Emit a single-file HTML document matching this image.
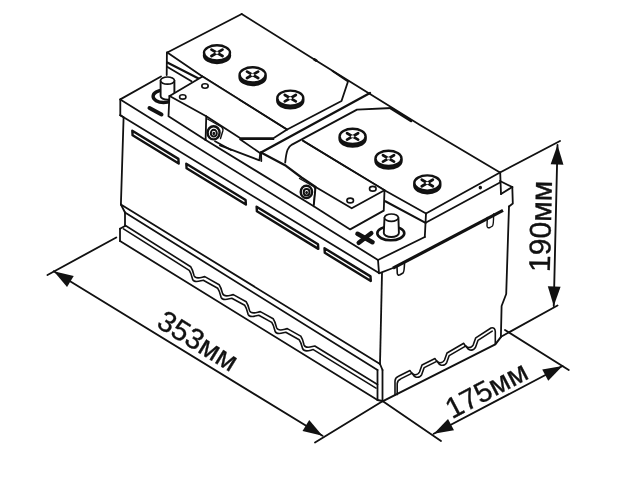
<!DOCTYPE html>
<html><head><meta charset="utf-8"><title>Battery dimensions</title>
<style>
html,body{margin:0;padding:0;background:#fff;}
body{width:640px;height:480px;overflow:hidden;}
svg{display:block;will-change:transform;}
text{font-family:"Liberation Sans",sans-serif;fill:#111;stroke:#111;stroke-width:0.35;}
</style></head><body>
<svg width="640" height="480" viewBox="0 0 640 480" fill="none" stroke="#111" stroke-linecap="round" stroke-linejoin="round">
<rect x="0" y="0" width="640" height="480" fill="#fff" stroke="none"/>
<path d="M120.30,99.40 L378.00,260.00" stroke-width="1.8" />
<path d="M120.30,99.40 L120.30,115.30" stroke-width="1.8" />
<path d="M120.30,115.30 L379.00,273.00" stroke-width="1.8" />
<path d="M378.00,260.00 L379.00,273.00" stroke-width="1.8" />
<path d="M120.30,99.40 L161.00,76.50" stroke-width="1.8" />
<path d="M378.00,260.00 L424.80,237.00" stroke-width="1.8" />
<path d="M500.00,181.00 L512.30,187.00" stroke-width="1.8" />
<path d="M512.30,187.00 L512.80,203.50 L509.00,206.50" stroke-width="1.8" />
<path d="M501.00,194.00 L512.30,187.00" stroke-width="1.8" />
<path d="M379.00,273.30 L393.00,268.00" stroke-width="1.8" />
<path d="M393.00,268.20 L503.00,210.30" stroke-width="3.2" stroke-linecap="butt"/>
<path d="M397,267 L397.3,273.5 Q397.6,275.8 400,274.8 L403,273 Q404.3,272 404.5,263" stroke-width="1.6" />
<path d="M487.3,217.5 L487,226 Q487.3,228.5 490,227.5 L492.5,226 Q493.6,225 493.6,214" stroke-width="1.4" />
<path d="M205.60,140.00 L313.75,206.25" stroke-width="1.8" />
<path d="M120.30,115.30 L123.60,117.30 L120.90,204.50" stroke-width="1.8" />
<path d="M120.90,204.50 L380.00,364.00" stroke-width="1.8" />
<path d="M120.90,204.50 L125.00,212.50" stroke-width="1.8" />
<path d="M125.00,212.50 L377.50,370.00" stroke-width="1.8" />
<path d="M125.00,212.50 L125.00,226.00" stroke-width="1.8" />
<path d="M120.00,228.75 L125.00,226.00" stroke-width="1.8" />
<path d="M120.00,228.75 L120.00,241.00" stroke-width="1.8" />
<path d="M120.00,241.00 L377.50,400.00" stroke-width="1.8" />
<path d="M382.00,273.00 L380.00,364.00" stroke-width="1.8" />
<path d="M380.00,364.00 L382.50,370.00" stroke-width="1.8" />
<path d="M382.50,370.00 L382.50,401.00" stroke-width="1.8" />
<path d="M377.50,370.00 L377.50,400.00" stroke-width="1.8" />
<path d="M377.50,400.00 L382.50,401.00" stroke-width="1.8" />
<path d="M509.00,206.50 L506.20,294.00 L501.60,306.00 L500.90,336.50" stroke-width="1.8" />
<path d="M382.50,401.30 L495.30,344.30 L501.00,336.80" stroke-width="2.0" />
<path d="M125.00,225.30 L190.70,266.72 C192.50,269.22 193.30,272.72 194.10,275.72 C194.90,277.42 196.20,277.92 198.10,277.92 C200.70,277.92 202.20,277.12 204.80,276.62 L219.20,284.69 C221.00,287.19 221.80,290.69 222.60,293.69 C223.40,295.39 224.70,295.89 226.60,295.89 C229.20,295.89 230.70,295.09 233.30,294.59 L246.20,301.72 C248.00,304.22 248.80,307.72 249.60,310.72 C250.40,312.42 251.70,312.92 253.60,312.92 C256.20,312.92 257.70,312.12 260.30,311.62 L273.20,318.74 C275.00,321.24 275.80,324.74 276.60,327.74 C277.40,329.44 278.70,329.94 280.60,329.94 C283.20,329.94 284.70,329.14 287.30,328.64 L300.70,336.08 C302.50,338.58 303.30,342.08 304.10,345.08 C304.90,346.78 306.20,347.28 308.10,347.28 C310.70,347.28 312.20,346.48 314.80,345.98 L377.50,384.50" stroke-width="1.6" />
<path d="M123.50,228.90 L189.20,270.32 C191.00,272.82 191.80,276.32 192.60,279.32 C193.40,281.02 194.70,281.52 196.60,281.52 C199.20,281.52 200.70,280.72 203.30,280.22 L217.70,288.29 C219.50,290.79 220.30,294.29 221.10,297.29 C221.90,298.99 223.20,299.49 225.10,299.49 C227.70,299.49 229.20,298.69 231.80,298.19 L244.70,305.32 C246.50,307.82 247.30,311.32 248.10,314.32 C248.90,316.02 250.20,316.52 252.10,316.52 C254.70,316.52 256.20,315.72 258.80,315.22 L271.70,322.34 C273.50,324.84 274.30,328.34 275.10,331.34 C275.90,333.04 277.20,333.54 279.10,333.54 C281.70,333.54 283.20,332.74 285.80,332.24 L299.20,339.68 C301.00,342.18 301.80,345.68 302.60,348.68 C303.40,350.38 304.70,350.88 306.60,350.88 C309.20,350.88 310.70,350.08 313.30,349.58 L376.00,388.10" stroke-width="1.6" />
<path d="M395.00,395.00 L395.00,381.00 Q395.30,377.60 398.50,376.30 L410.00,370.50 C411.00,372.50 412.00,374.30 414.00,374.60 C416.00,374.90 418.50,374.00 419.50,372.00 L422.00,365.00 L435.00,358.50 C436.00,360.50 437.00,362.30 439.00,362.60 C441.00,362.90 443.50,362.00 444.50,360.00 L447.00,353.00 L463.75,343.30 C464.75,345.30 465.75,347.10 467.75,347.40 C469.75,347.70 472.25,346.80 473.25,344.80 L475.75,337.80 L491.00,328.00 Q495.00,327.00 495.30,331.50 L495.30,344.30" stroke-width="1.6" />
<path d="M397.20,394.60 L397.20,383.60 Q397.50,380.20 400.70,378.90 L412.20,373.10 C413.20,375.10 414.20,376.90 416.20,377.20 C418.20,377.50 420.70,376.60 421.70,374.60 L424.20,367.60 L437.20,361.10 C438.20,363.10 439.20,364.90 441.20,365.20 C443.20,365.50 445.70,364.60 446.70,362.60 L449.20,355.60 L465.95,345.90 C466.95,347.90 467.95,349.70 469.95,350.00 C471.95,350.30 474.45,349.40 475.45,347.40 L477.95,340.40 L492.20,331.10" stroke-width="1.6" />
<path d="M167.30,52.50 L241.70,14.00" stroke-width="1.8" />
<path d="M241.70,14.00 L320.00,63.00 L420.00,125.00 L500.00,172.50" stroke-width="1.8" />
<path d="M391.00,108.50 L411.00,121.00" stroke-width="2.6" />
<path d="M314.30,59.40 L316.30,60.60" stroke-width="2.8" />
<path d="M167.30,52.50 L202.50,76.50 L287.00,129.50" stroke-width="1.8" />
<path d="M166.90,52.50 L166.70,75.00" stroke-width="1.8" />
<path d="M167.30,62.50 L200.00,79.30" stroke-width="2.2" />
<path d="M167.50,67.00 L191.50,81.30" stroke-width="1.8" />
<path d="M332.50,71.00 L348.00,81.50 L341.50,101.00 L286.70,129.80 L273.40,138.20 L240.00,138.00 L206.25,116.25" stroke-width="1.8" />
<path d="M240.50,139.30 L273.80,139.50" stroke-width="1.2" />
<path d="M370.00,93.00 L261.00,152.50" stroke-width="2.4" />
<path d="M261.00,152.50 L261.30,161.00" stroke-width="1.8" />
<path d="M392,108 L357,109.6 L292,144.6 C288,147 286.5,150 285.2,162.6" stroke-width="1.8" />
<path d="M303.00,140.80 L384.50,190.30 L426.00,213.50" stroke-width="1.8" />
<path d="M426.00,213.50 L500.00,172.50" stroke-width="1.8" />
<path d="M426.00,213.50 L424.80,237.00" stroke-width="1.8" />
<path d="M425.60,222.80 L500.00,182.50" stroke-width="1.8" />
<path d="M500.20,172.50 L501.00,194.00" stroke-width="1.8" />
<path d="M425.60,222.80 L385.30,201.25" stroke-width="2" />
<path d="M261.00,152.50 L286.00,165.80 L301.50,177.50 L315.60,186.90" stroke-width="2.2" />
<ellipse cx="480.3" cy="187.6" rx="1.1" ry="1.3" stroke-width="1.2" fill="#111" transform="rotate(0 480.3 187.6)"/>
<ellipse cx="163.5" cy="96.3" rx="10.4" ry="6.2" stroke-width="3.4" fill="none" transform="rotate(0 163.5 96.3)"/>
<path d="M160.6,80.6 L160.6,96 A6.9,3.6 0 0 0 174.4,96 L174.4,80.6 Z" stroke-width="1.9" fill="#fff"/>
<ellipse cx="167.5" cy="80.6" rx="6.9" ry="3.6" stroke-width="1.7" fill="#fff" transform="rotate(0 167.5 80.6)"/>
<path d="M149.50,108.00 L161.50,114.50" stroke-width="4" />
<path d="M169.6,96 L202.5,76.5 L240,99.5 L206.25,116.25 Z" fill="#fff" stroke="none"/>
<path d="M169.6,96 L206.25,116.25 L205.6,140 L168.5,116.25 Z" fill="#fff" stroke="none"/>
<path d="M169.60,96.00 L202.50,76.50" stroke-width="1.8" />
<path d="M202.50,76.50 L287.00,129.50" stroke-width="1.8" />
<path d="M169.60,96.00 L206.25,116.25" stroke-width="1.8" />
<path d="M169.40,96.00 L168.50,116.25 L205.60,140.00" stroke-width="1.8" />
<path d="M206.25,116.25 L205.60,140.00" stroke-width="1.8" />
<ellipse cx="182.75" cy="96.9" rx="3.2" ry="2.2" stroke-width="1.6" fill="none" transform="rotate(0 182.75 96.9)"/>
<ellipse cx="205" cy="86" rx="3.2" ry="2.2" stroke-width="1.6" fill="none" transform="rotate(0 205 86)"/>
<path d="M207.5,119 L221.5,127 Q223.5,128.5 222.8,131 L220.5,138.5" stroke-width="1.4" />
<ellipse cx="213.6" cy="132.8" rx="6.0" ry="6.6" stroke-width="2.4" fill="#fff" transform="rotate(0 213.6 132.8)"/>
<ellipse cx="213.8" cy="133.2" rx="3.0" ry="3.4" stroke-width="2.0" fill="none" transform="rotate(0 213.8 133.2)"/>
<ellipse cx="213.8" cy="133.4" rx="0.8" ry="1.0" stroke-width="1.2" fill="#111" transform="rotate(0 213.8 133.4)"/>
<path d="M215.00,141.25 L231.00,150.00" stroke-width="1.8" />
<path d="M220.00,145.30 L259.40,160.30 L260.30,152.80" stroke-width="1.8" />
<path d="M240.00,139.30 L260.00,153.00" stroke-width="1.8" />
<path d="M315.6,186.9 L348.1,169.4 L384.5,190.3 L351.7,208.3 Z" fill="#fff" stroke="none"/>
<path d="M315.6,186.9 L351.7,208.3 L384.5,190.3 L383.75,210.6 L350.2,229.4 L313.75,206.25 Z" fill="#fff" stroke="none"/>
<path d="M303.00,140.80 L384.50,190.30" stroke-width="1.8" />
<path d="M315.60,186.90 L351.70,208.30 L384.50,190.30" stroke-width="1.8" />
<path d="M384.50,190.30 L383.75,210.60 L350.20,229.40 L313.75,206.25 L315.60,186.90" stroke-width="1.8" />
<ellipse cx="350.2" cy="200.5" rx="3.3" ry="2.4" stroke-width="1.6" fill="none" transform="rotate(0 350.2 200.5)"/>
<ellipse cx="372.8" cy="188.75" rx="3.3" ry="2.4" stroke-width="1.6" fill="none" transform="rotate(0 372.8 188.75)"/>
<path d="M299.5,178.5 L313.5,186.5 Q315.6,188 315,190.5 L313.6,204" stroke-width="1.4" />
<ellipse cx="306.4" cy="191.9" rx="5.7" ry="6.2" stroke-width="2.4" fill="#fff" transform="rotate(0 306.4 191.9)"/>
<ellipse cx="306.6" cy="192.3" rx="2.9" ry="3.2" stroke-width="2.0" fill="none" transform="rotate(0 306.6 192.3)"/>
<ellipse cx="306.6" cy="192.5" rx="0.8" ry="1.0" stroke-width="1.2" fill="#111" transform="rotate(0 306.6 192.5)"/>
<ellipse cx="390.8" cy="233.3" rx="13.5" ry="7" stroke-width="2.6" fill="none" transform="rotate(0 390.8 233.3)"/>
<path d="M384.5,217.7 L383.8,233 A7.2,3.8 0 0 0 398.9,233 L398.4,217.7 Z" stroke-width="1.9" fill="#fff"/>
<ellipse cx="391.4" cy="217.7" rx="6.9" ry="3.7" stroke-width="1.7" fill="#fff" transform="rotate(0 391.4 217.7)"/>
<path d="M357.50,233.80 L372.50,242.20" stroke-width="4.6" />
<path d="M358.80,242.80 L371.20,233.20" stroke-width="4.6" />
<ellipse cx="217" cy="55.4" rx="13.0" ry="7.6" stroke-width="2.4" fill="#222" transform="rotate(0 217 55.4)"/>
<ellipse cx="217" cy="52.8" rx="13.0" ry="7.6" stroke-width="2.4" fill="#fff" transform="rotate(0 217 52.8)"/>
<path d="M211.50,49.60 L222.50,56.00" stroke-width="2.8" />
<path d="M211.50,56.00 L222.50,49.60" stroke-width="2.8" />
<ellipse cx="217" cy="52.8" rx="1.7" ry="1.2" stroke-width="0.1" fill="#fff" transform="rotate(0 217 52.8)"/>
<ellipse cx="252.6" cy="77.39999999999999" rx="13.0" ry="7.6" stroke-width="2.4" fill="#222" transform="rotate(0 252.6 77.39999999999999)"/>
<ellipse cx="252.6" cy="74.8" rx="13.0" ry="7.6" stroke-width="2.4" fill="#fff" transform="rotate(0 252.6 74.8)"/>
<path d="M247.10,71.60 L258.10,78.00" stroke-width="2.8" />
<path d="M247.10,78.00 L258.10,71.60" stroke-width="2.8" />
<ellipse cx="252.6" cy="74.8" rx="1.7" ry="1.2" stroke-width="0.1" fill="#fff" transform="rotate(0 252.6 74.8)"/>
<ellipse cx="290.3" cy="100.8" rx="13.0" ry="7.6" stroke-width="2.4" fill="#222" transform="rotate(0 290.3 100.8)"/>
<ellipse cx="290.3" cy="98.2" rx="13.0" ry="7.6" stroke-width="2.4" fill="#fff" transform="rotate(0 290.3 98.2)"/>
<path d="M284.80,95.00 L295.80,101.40" stroke-width="2.8" />
<path d="M284.80,101.40 L295.80,95.00" stroke-width="2.8" />
<ellipse cx="290.3" cy="98.2" rx="1.7" ry="1.2" stroke-width="0.1" fill="#fff" transform="rotate(0 290.3 98.2)"/>
<ellipse cx="352.6" cy="139.0" rx="13.0" ry="7.6" stroke-width="2.4" fill="#222" transform="rotate(0 352.6 139.0)"/>
<ellipse cx="352.6" cy="136.4" rx="13.0" ry="7.6" stroke-width="2.4" fill="#fff" transform="rotate(0 352.6 136.4)"/>
<path d="M347.10,133.20 L358.10,139.60" stroke-width="2.8" />
<path d="M347.10,139.60 L358.10,133.20" stroke-width="2.8" />
<ellipse cx="352.6" cy="136.4" rx="1.7" ry="1.2" stroke-width="0.1" fill="#fff" transform="rotate(0 352.6 136.4)"/>
<ellipse cx="388.5" cy="161.0" rx="13.0" ry="7.6" stroke-width="2.4" fill="#222" transform="rotate(0 388.5 161.0)"/>
<ellipse cx="388.5" cy="158.4" rx="13.0" ry="7.6" stroke-width="2.4" fill="#fff" transform="rotate(0 388.5 158.4)"/>
<path d="M383.00,155.20 L394.00,161.60" stroke-width="2.8" />
<path d="M383.00,161.60 L394.00,155.20" stroke-width="2.8" />
<ellipse cx="388.5" cy="158.4" rx="1.7" ry="1.2" stroke-width="0.1" fill="#fff" transform="rotate(0 388.5 158.4)"/>
<ellipse cx="427.3" cy="185.6" rx="13.0" ry="7.6" stroke-width="2.4" fill="#222" transform="rotate(0 427.3 185.6)"/>
<ellipse cx="427.3" cy="183" rx="13.0" ry="7.6" stroke-width="2.4" fill="#fff" transform="rotate(0 427.3 183)"/>
<path d="M421.80,179.80 L432.80,186.20" stroke-width="2.8" />
<path d="M421.80,186.20 L432.80,179.80" stroke-width="2.8" />
<ellipse cx="427.3" cy="183" rx="1.7" ry="1.2" stroke-width="0.1" fill="#fff" transform="rotate(0 427.3 183)"/>
<path d="M132.3,130.7 L178.4,158.89014999999998 L178.70000000000002,163.49014999999997 L132.60000000000002,135.29999999999998 Z" stroke-width="2.4" />
<path d="M186.3,163.721 L245.6,199.98295 L245.9,204.58294999999998 L186.60000000000002,168.321 Z" stroke-width="2.4" />
<path d="M256.6,206.70945 L318,244.25554999999997 L318.3,248.85554999999997 L256.90000000000003,211.30945 Z" stroke-width="2.4" />
<path d="M324.5,248.2303 L370.5,276.35929999999996 L370.8,280.9593 L324.8,252.8303 Z" stroke-width="2.4" />
<path d="M116.25,237.50 L47.50,275.00" stroke-width="1.85" />
<path d="M382.50,401.30 L315.00,442.50" stroke-width="1.85" />
<path d="M53.75,271.25 L322.50,435.75" stroke-width="1.85" />
<path d="M53.75,271.25 L67.04,286.89 L73.72,275.97 Z" fill="#111" stroke="none"/>
<path d="M322.50,435.75 L309.21,420.11 L302.53,431.03 Z" fill="#111" stroke="none"/>
<text x="0" y="0" font-size="29" text-anchor="middle" transform="translate(192.9,349.3) rotate(31.47)">353мм</text>
<path d="M382.50,401.00 L441.00,441.00" stroke-width="1.85" />
<path d="M505.00,330.00 L568.75,370.00" stroke-width="1.85" />
<path d="M433.75,433.75 L562.50,366.00" stroke-width="1.85" />
<path d="M433.75,433.75 L453.99,430.33 L448.03,419.01 Z" fill="#111" stroke="none"/>
<path d="M562.50,366.00 L542.26,369.42 L548.22,380.74 Z" fill="#111" stroke="none"/>
<text x="0" y="0" font-size="29" text-anchor="middle" transform="translate(491,398.6) rotate(-27.75)">175мм</text>
<path d="M500.00,172.50 L560.00,141.00" stroke-width="1.85" />
<path d="M501.00,336.80 L557.50,305.50" stroke-width="1.85" />
<path d="M557.50,145.00 L553.75,306.00" stroke-width="1.85" />
<path d="M557.50,145.00 L550.65,164.35 L563.44,164.64 Z" fill="#111" stroke="none"/>
<path d="M553.75,306.00 L560.60,286.65 L547.81,286.36 Z" fill="#111" stroke="none"/>
<text x="0" y="0" font-size="30" text-anchor="middle" transform="translate(550.8,226.5) rotate(-88.67)">190мм</text>
</svg>
</body></html>
